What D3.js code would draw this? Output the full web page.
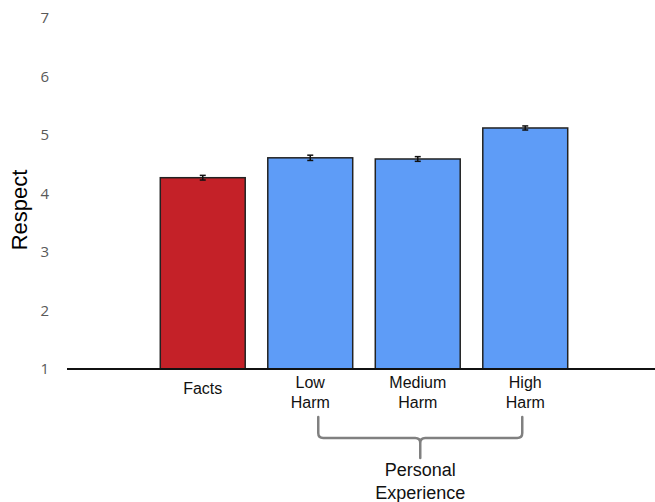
<!DOCTYPE html>
<html><head><meta charset="utf-8">
<script src="https://cdn.jsdelivr.net/npm/d3@7"></script>
<style>body{margin:0;background:#fff}svg{display:block}</style>
</head><body>
<svg id="c" width="655" height="502"></svg>
<script>
const categories = ["Facts", "Low Harm", "Medium Harm", "High Harm"];
const labelLines = [["Facts"], ["Low", "Harm"], ["Medium", "Harm"], ["High", "Harm"]];
const means = [4.27, 4.61, 4.59, 5.12];
const errors = [0.04, 0.045, 0.04, 0.035];
const barColors = ["#c42128", "#5e9cf7", "#5e9cf7", "#5e9cf7"];
const yTicks = [1, 2, 3, 4, 5, 6, 7];
const groupLabel = ["Personal", "Experience"];
const groupMembers = ["Low Harm", "High Harm"];

(function () {
const svg = d3.select("#c");
const font = "'Liberation Sans', Arial, Helvetica, sans-serif";

const x = d3.scaleBand().domain(categories).range([149, 579]).paddingInner(0.21).paddingOuter(0.105);
const y = d3.scaleLinear().domain([1, 7]).range([369, 18]);

// y tick labels
svg.append("g").selectAll("text").data(yTicks).join("text")
  .attr("x", 49).attr("y", d => y(d)).attr("dy", "0.35em")
  .attr("text-anchor", "end").attr("font-family", "'Open Sans', 'Noto Sans', sans-serif").attr("font-size", 15)
  .attr("fill", "#595959").text(d => d);

// y title
svg.append("text").attr("transform", `translate(27,210) rotate(-90)`)
  .attr("text-anchor", "middle").attr("font-family", font).attr("font-size", 22)
  .attr("fill", "#000").text("Respect");

// bars
svg.append("g").selectAll("rect").data(categories).join("rect")
  .attr("x", d => x(d)).attr("width", x.bandwidth())
  .attr("y", (d, i) => y(means[i])).attr("height", (d, i) => y(1) - y(means[i]))
  .attr("fill", (d, i) => barColors[i]).attr("stroke", "#222").attr("stroke-width", 1.5);

// error bars
const eb = svg.append("g").attr("stroke", "#111").attr("stroke-width", 1.5);
categories.forEach((c, i) => {
  const cx = x(c) + x.bandwidth() / 2;
  const y0 = y(means[i] - errors[i]), y1 = y(means[i] + errors[i]);
  eb.append("line").attr("x1", cx).attr("x2", cx).attr("y1", y0).attr("y2", y1);
  eb.append("line").attr("x1", cx - 3).attr("x2", cx + 3).attr("y1", y0).attr("y2", y0);
  eb.append("line").attr("x1", cx - 3).attr("x2", cx + 3).attr("y1", y1).attr("y2", y1);
});

// x axis line
svg.append("line").attr("x1", 67).attr("x2", 655).attr("y1", y(1)).attr("y2", y(1))
  .attr("stroke", "#111").attr("stroke-width", 2);

// category labels
categories.forEach((c, i) => {
  const cx = x(c) + x.bandwidth() / 2;
  const lines = labelLines[i];
  const t = svg.append("text").attr("text-anchor", "middle").attr("font-family", font)
    .attr("font-size", 16).attr("fill", "#111");
  lines.forEach((l, j) => {
    t.append("tspan").attr("x", cx)
      .attr("y", (lines.length === 1 ? 394 : 388) + j * 20).text(l);
  });
});

// bracket
const bx0 = x(groupMembers[0]) + x.bandwidth() / 2 + 8;
const bx1 = x(groupMembers[1]) + x.bandwidth() / 2 - 3;
const bm = (bx0 + bx1) / 2;
const bTop = 417, bMid = 438, bTip = 458, r = 5;
const p = d3.path();
p.moveTo(bx0, bTop); p.lineTo(bx0, bMid - r); p.quadraticCurveTo(bx0, bMid, bx0 + r, bMid);
p.lineTo(bm - r, bMid); p.quadraticCurveTo(bm, bMid, bm, bMid + r); p.lineTo(bm, bTip);
p.moveTo(bm, bMid + r); p.quadraticCurveTo(bm, bMid, bm + r, bMid);
p.lineTo(bx1 - r, bMid); p.quadraticCurveTo(bx1, bMid, bx1, bMid - r); p.lineTo(bx1, bTop);
svg.append("path").attr("d", p.toString()).attr("fill", "none")
  .attr("stroke", "#808080").attr("stroke-width", 2.5).attr("stroke-linecap", "round");

const gt = svg.append("text").attr("text-anchor", "middle").attr("font-family", font)
  .attr("font-size", 18).attr("fill", "#111");
groupLabel.forEach((l, j) => gt.append("tspan").attr("x", bm).attr("y", 476 + j * 23).text(l));
})();
</script>
</body></html>
